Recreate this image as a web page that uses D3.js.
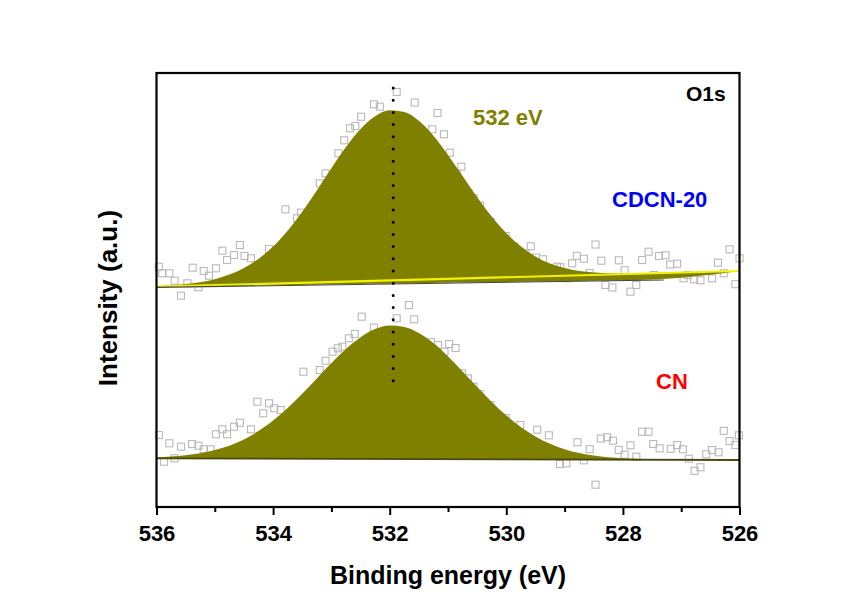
<!DOCTYPE html>
<html>
<head>
<meta charset="utf-8">
<script src="https://cdn.jsdelivr.net/npm/d3@7.9.0/dist/d3.min.js"></script>
<style>
  body { margin: 0; background: #fff; }
  svg { display: block; }
  text { font-family: "Liberation Sans", Arial, sans-serif; font-weight: bold; }
</style>
</head>
<body>
<svg id="chart" width="846" height="599"></svg>
<script>
// raw data points (binding energy eV, intensity a.u.)
const cdcnE = [535.96,535.90,535.78,535.69,535.58,535.47,535.38,535.28,535.19,535.10,534.98,534.87,534.79,534.67,534.57,534.49,534.38,534.07,533.79,533.59,533.52,533.20,533.10,532.88,532.78,532.68,532.59,532.49,532.27,532.17,531.88,531.57,531.27,531.18,531.07,530.97,530.85,530.77,530.65,530.56,530.45,530.27,530.01,529.86,529.67,529.58,529.49,529.37,529.17,529.13,529.07,528.97,528.87,528.79,528.67,528.57,528.47,528.37,528.30,528.18,528.07,527.97,527.87,527.77,527.67,527.56,527.47,527.38,527.27,527.19,527.07,526.96,526.89,526.78,526.67,526.47,526.37,526.27,526.17,526.07,526.00];
const cdcnI = [240.3,233.7,233.7,226.3,211.3,223.7,239.3,219.7,236,231.3,238.7,256.3,247,252,262,251,248.7,258,297.7,288.7,294.3,323.7,333.7,353.7,366.7,378.7,381,390.3,402.7,400.3,415,404.5,377.7,394,372.7,354.3,333.7,340.3,313.7,308.7,301.3,285,271,260.3,253.7,260.7,249.5,247.7,230.3,240.3,239.7,228.7,243.7,251.2,248.3,234,262.5,246.3,222,219.5,246.7,236.7,215.3,222,247,255.3,232,251,251.7,242.5,243.3,228.7,232,227.7,226.7,228.7,244.3,233.7,257.7,222.8,248.7];

const cnE = [535.96,535.87,535.78,535.69,535.58,535.39,535.28,535.19,535.07,534.98,534.87,534.79,534.67,534.57,534.38,534.27,534.17,534.07,533.98,533.87,533.48,533.20,533.10,532.98,532.89,532.81,532.70,532.60,532.48,532.27,531.88,531.67,531.58,531.29,531.17,531.06,530.98,530.87,530.76,530.66,530.56,530.46,530.27,530.01,529.76,529.47,529.27,529.08,528.97,528.78,528.67,528.57,528.47,528.38,528.27,528.17,528.07,527.97,527.87,527.77,527.67,527.56,527.48,527.37,527.18,527.07,526.97,526.87,526.77,526.67,526.57,526.47,526.36,526.27,526.17,526.07,526.01];
const cnI = [72,45.3,63.7,48.7,60.3,63,61.3,57.7,57.7,72.7,77.7,72.7,80.3,84.3,77.7,105.3,93.7,103.7,98.7,97,135.3,137,146.3,155.3,158.7,160.3,168.7,173,190.3,179.5,188.7,202,187.7,164.8,162,155.3,163,159,133.7,128.7,120.3,113,102,89,82,77.3,71.7,43,43.7,64.7,46.7,57.8,22.3,68.5,69.8,66.3,57,52.3,61.7,50.3,75.3,75.3,63,58.7,58.2,62,57.7,48.3,36.2,39.7,52.7,57,54.7,76.2,66,62,71.7];

// fitted envelopes
const fitE = [536,535.5,535,534.5,534,533.75,533.5,533.25,533,532.75,532.5,532.25,532,531.75,531.5,531.25,531,530.75,530.5,530.25,530,529.5,529,528.5,528,527,526];
const cdcnFit = [220.8,222.9,227.8,238.9,260.5,276.3,295.3,316.6,338.8,360.0,378.0,390.7,396.7,395.1,386.3,371.3,352.1,330.9,309.8,290.4,273.8,250.6,238.9,234.5,233.5,234.4,236.0];
const cnFit = [49.7,51.7,56.9,67.6,86.4,99.0,113.3,128.6,143.9,158.0,169.8,177.9,181.4,180.1,174.0,163.9,150.6,135.6,120.0,105.1,91.5,70.5,57.8,51.4,48.7,47.3,47.0];

// backgrounds
const cdcnBgE = [536, 526];
const cdcnBgI = [220.3, 236];
const cdcnFloorE = [536, 527.3, 526];
const cdcnFloorI = [220, 227.3, 236];
const cnBgE = [536, 526];
const cnBgI = [48.7, 47];

const peakE = 531.94;
const peakMark = [124, 419];

const majorTicks = [536, 534, 532, 530, 528, 526];
const minorTicks = [535, 533, 531, 529, 527];

const svg = d3.select('#chart');
const x = d3.scaleLinear().domain([536, 526]).range([156.5, 739.5]);
const y = d3.scaleLinear().domain([0, 434]).range([507, 73]);

const olive = '#7f7f00';

// scatter (drawn first, fill covers it)
function squares(E, I) {
  svg.append('g')
    .selectAll('rect')
    .data(E.map((e, i) => [e, I[i]]))
    .join('rect')
    .attr('x', d => x(d[0]) - 3.5)
    .attr('y', d => y(d[1]) - 3.5)
    .attr('width', 7)
    .attr('height', 7)
    .attr('fill', 'none')
    .attr('stroke', '#b9b9b9')
    .attr('stroke-width', 1.1);
}
squares(cdcnE, cdcnI);
squares(cnE, cnI);

const cdcnFloor = d3.scaleLinear().domain(cdcnFloorE).range(cdcnFloorI);
const cnBg = d3.scaleLinear().domain(cnBgE).range(cnBgI);

const area = d3.area()
  .x(d => x(d[0]))
  .y1(d => y(d[1]))
  .y0(d => y(d[2]))
  .curve(d3.curveMonotoneX);

svg.append('path')
  .datum(fitE.map((e, i) => [e, cdcnFit[i], cdcnFloor(e)]))
  .attr('d', area)
  .attr('fill', olive);

svg.append('path')
  .datum(fitE.map((e, i) => [e, cnFit[i], cnBg(e)]))
  .attr('d', area)
  .attr('fill', olive);

const line = d3.line().x(d => x(d[0])).y(d => y(d[1]));

// top background (yellow) and lower dark line
svg.append('path')
  .datum(cdcnBgE.map((e, i) => [e, cdcnBgI[i]]))
  .attr('d', line)
  .attr('fill', 'none')
  .attr('stroke', '#f2f200')
  .attr('stroke-width', 2.2);

svg.append('path')
  .datum([[536, 219.6], [527.3, 227]])
  .attr('d', line)
  .attr('fill', 'none')
  .attr('stroke', '#444')
  .attr('stroke-width', 1.2);

// bottom baseline
svg.append('path')
  .datum(cnBgE.map((e, i) => [e, cnBgI[i]]))
  .attr('d', line)
  .attr('fill', 'none')
  .attr('stroke', '#4a4a10')
  .attr('stroke-width', 1.8);

// dotted peak marker
svg.append('line')
  .attr('x1', x(peakE)).attr('x2', x(peakE))
  .attr('y1', y(peakMark[1])).attr('y2', y(peakMark[0]))
  .attr('stroke', '#000')
  .attr('stroke-width', 3)
  .attr('stroke-linecap', 'round')
  .attr('stroke-dasharray', '0 12.2');

// axes
const gx = svg.append('g').attr('transform', `translate(0,${y(0)})`);
gx.call(d3.axisBottom(x).tickValues(majorTicks).tickSize(8).tickPadding(10).tickFormat(d3.format('d')));
gx.append('g').call(d3.axisBottom(x).tickValues(minorTicks).tickSize(5).tickFormat(''));
gx.selectAll('.domain').remove();
gx.selectAll('line').attr('stroke', '#000').attr('stroke-width', 2);
gx.selectAll('text')
  .attr('fill', '#000')
  .style('font-size', '22px')
  .style('font-family', '"Liberation Sans", Arial, sans-serif')
  .style('font-weight', 'bold');

// frame
svg.append('rect')
  .attr('x', x(536)).attr('y', y(434))
  .attr('width', x(526) - x(536)).attr('height', y(0) - y(434))
  .attr('fill', 'none')
  .attr('stroke', '#000')
  .attr('stroke-width', 2.2);

// titles
svg.append('text')
  .attr('x', 448).attr('y', 584)
  .attr('text-anchor', 'middle')
  .style('font-size', '25px')
  .text('Binding energy (eV)');

svg.append('text')
  .attr('transform', 'translate(117,298) rotate(-90)')
  .attr('text-anchor', 'middle')
  .style('font-size', '26px')
  .text('Intensity (a.u.)');

// annotations
svg.append('text').attr('x', 473).attr('y', 125).attr('fill', olive)
  .style('font-size', '22px').text('532 eV');
svg.append('text').attr('x', 686).attr('y', 101).attr('fill', '#000')
  .style('font-size', '21px').text('O1s');
svg.append('text').attr('x', 612).attr('y', 207).attr('fill', '#0000ff')
  .style('font-size', '22px').text('CDCN-20');
svg.append('text').attr('x', 656).attr('y', 389).attr('fill', '#ff0000')
  .style('font-size', '22px').text('CN');
</script>
</body>
</html>
